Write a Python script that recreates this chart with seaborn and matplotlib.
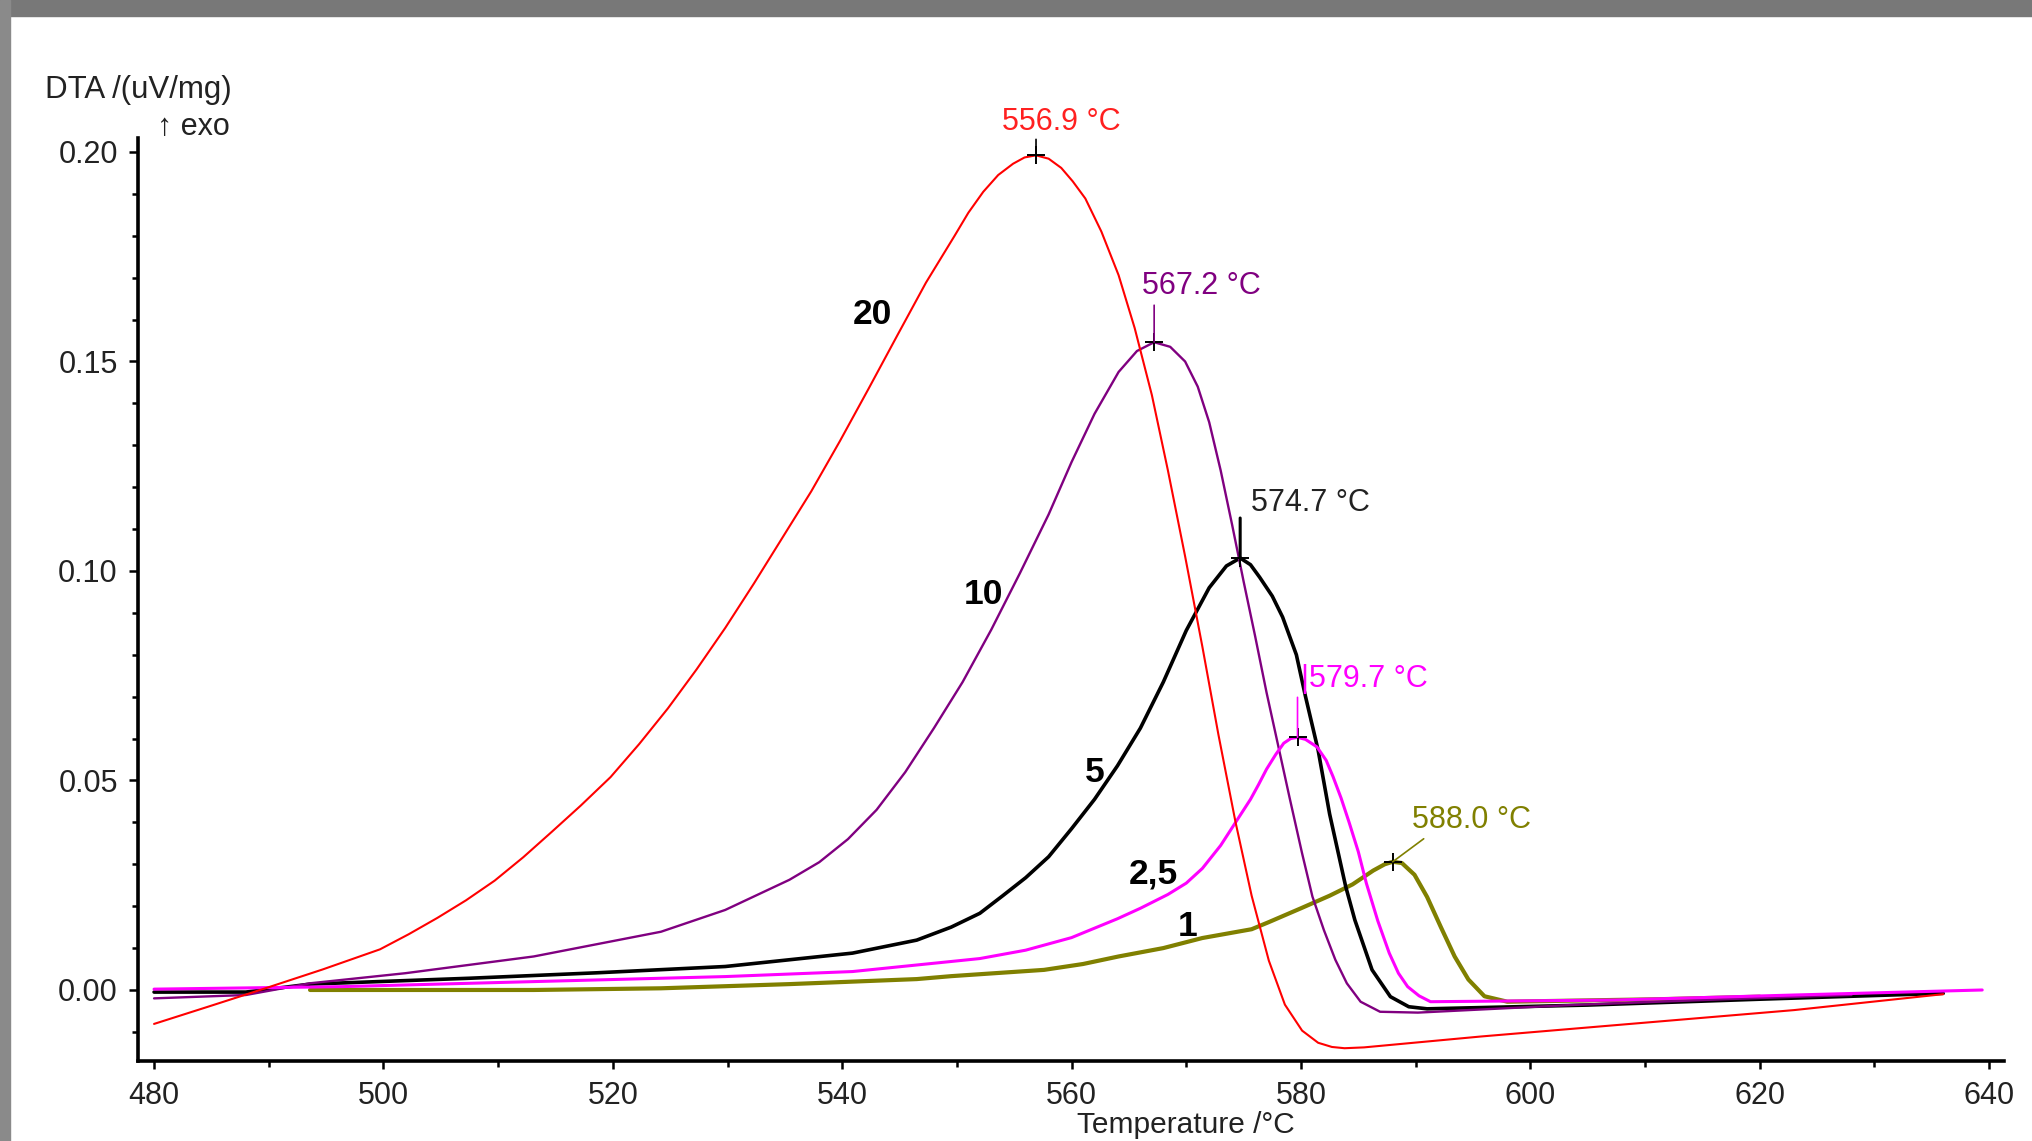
import matplotlib
matplotlib.use("Agg")
import matplotlib.pyplot as plt
from matplotlib.patches import Rectangle
from matplotlib.ticker import MultipleLocator, FormatStrFormatter
import seaborn as sns
import pandas as pd

# ---- DTA curves at different heating rates (K/min) ----
rate_labels = ["20", "10", "5", "2,5", "1"]
colors = ["#ff0000", "#800080", "#000000", "#ff00ff", "#808000"]

t_20 = [480.0, 484.7, 489.7, 494.7, 499.7, 502.2, 504.7, 507.2, 509.7, 512.2, 514.7,
        517.2, 519.8, 522.3, 524.8, 527.3, 529.8, 532.3, 534.8, 537.3, 539.8, 542.3,
        544.8, 547.3, 549.8, 551.0, 552.3, 553.6, 554.9, 555.9, 556.9, 558.0, 559.1,
        560.1, 561.2, 562.6, 564.1, 565.5, 567.0, 568.4, 569.9, 571.4, 572.8, 574.3,
        575.7, 577.2, 578.6, 580.1, 581.5, 582.7, 583.8, 585.5, 595.7, 607.4, 623.0,
        636.0]
v_20 = [-0.0081, -0.0040, 0.0004, 0.0049, 0.0097, 0.0133, 0.0172, 0.0214, 0.0261, 0.0317,
        0.0378, 0.0440, 0.0508, 0.0587, 0.0672, 0.0765, 0.0864, 0.0970, 0.1080, 0.1190,
        0.1310, 0.1435, 0.1562, 0.1688, 0.1800, 0.1855, 0.1905, 0.1945, 0.1972, 0.1987,
        0.1992, 0.1984, 0.1962, 0.1930, 0.1889, 0.1810, 0.1706, 0.1580, 0.1420, 0.1240,
        0.1035, 0.0820, 0.0610, 0.0400, 0.0225, 0.0070, -0.0035, -0.0097, -0.0126,
        -0.0136, -0.0139, -0.0137, -0.0111, -0.0084, -0.0048, -0.0010]

t_10 = [480.0, 488.0, 493.6, 501.9, 513.1, 524.2, 529.8, 535.4, 538.0, 540.5, 543.0,
        545.5, 548.0, 550.5, 553.0, 555.5, 558.0, 560.0, 562.0, 564.1, 565.7, 567.2,
        568.6, 569.9, 571.0, 572.0, 573.0, 574.0, 575.0, 576.0, 577.0, 578.0, 579.0,
        580.1, 581.0, 582.0, 583.0, 584.0, 585.2, 586.9, 590.2, 603.5, 617.0, 628.0]
v_10 = [-0.0020, -0.0012, 0.0016, 0.0040, 0.0080, 0.0139, 0.0191, 0.0263, 0.0305, 0.0360,
        0.0430, 0.0520, 0.0625, 0.0735, 0.0860, 0.0995, 0.1135, 0.1260, 0.1375, 0.1475,
        0.1525, 0.1546, 0.1535, 0.1500, 0.1440, 0.1355, 0.1240, 0.1110, 0.0975, 0.0845,
        0.0710, 0.0585, 0.0460, 0.0326, 0.0223, 0.0143, 0.0072, 0.0016, -0.0028, -0.0052,
        -0.0054, -0.0036, -0.0022, -0.0012]

t_5 = [480.0, 488.0, 493.6, 507.5, 518.6, 529.8, 540.9, 546.5, 549.5, 552.0, 554.0,
       556.0, 558.0, 560.0, 562.0, 564.0, 566.0, 568.0, 570.0, 572.0, 573.5, 574.7,
       575.6, 576.4, 577.5, 578.4, 579.6, 580.4, 581.5, 582.5, 583.9, 584.7, 586.2,
       587.8, 589.4, 591.0, 605.0, 620.0, 636.0]
v_5 = [-0.0005, -0.0005, 0.0014, 0.0028, 0.0041, 0.0056, 0.0088, 0.0119, 0.0150, 0.0183,
       0.0225, 0.0268, 0.0318, 0.0385, 0.0455, 0.0535, 0.0625, 0.0735, 0.0858, 0.0960,
       0.1012, 0.1031, 0.1015, 0.0985, 0.0940, 0.0890, 0.0800, 0.0700, 0.0572, 0.0420,
       0.0247, 0.0167, 0.0048, -0.0016, -0.0040, -0.0045, -0.0036, -0.0022, -0.0008]

t_25 = [480.0, 496.4, 513.1, 529.8, 540.9, 549.5, 552.0, 556.0, 560.0, 564.0, 566.0,
        568.4, 570.0, 571.4, 573.0, 574.3, 575.6, 576.3, 577.0, 577.8, 578.5, 579.1,
        579.7, 580.4, 581.4, 582.2, 582.8, 583.5, 584.2, 585.0, 585.7, 586.7, 587.7,
        588.5, 589.3, 590.3, 591.3, 607.4, 623.0, 639.4]
v_25 = [0.0002, 0.0008, 0.0020, 0.0032, 0.0044, 0.0068, 0.0075, 0.0095, 0.0125, 0.0170,
        0.0195, 0.0228, 0.0255, 0.0290, 0.0345, 0.0400, 0.0455, 0.0490, 0.0527, 0.0562,
        0.0589, 0.0600, 0.0603, 0.0598, 0.0580, 0.0548, 0.0509, 0.0458, 0.0400, 0.0330,
        0.0255, 0.0165, 0.0088, 0.0040, 0.0008, -0.0014, -0.0028, -0.0024, -0.0012, 0.0000]

t_1 = [493.6, 513.1, 524.2, 535.4, 546.5, 549.5, 557.6, 561.0, 564.1, 568.0, 571.4,
       575.7, 577.2, 580.0, 582.5, 584.5, 586.3, 587.3, 588.0, 588.8, 589.9, 591.0,
       592.2, 593.4, 594.6, 596.0, 598.0, 611.3, 620.0]
v_1 = [0.0000, 0.0000, 0.0004, 0.0014, 0.0026, 0.0033, 0.0048, 0.0062, 0.0080, 0.0100,
       0.0124, 0.0145, 0.0162, 0.0195, 0.0225, 0.0252, 0.0285, 0.0300, 0.0306, 0.0303,
       0.0275, 0.0222, 0.0150, 0.0080, 0.0025, -0.0015, -0.0028, -0.0022, -0.0016]

# Peak temperatures and heights
peak_t = [556.9, 567.2, 574.7, 579.7, 588.0]
peak_v = [0.1992, 0.1546, 0.1031, 0.0603, 0.0306]

# Positions of the heating-rate tags on the rising flanks
tag_t = [542.6, 552.3, 562.0, 567.1, 570.1]
tag_v = [0.1611, 0.0943, 0.0519, 0.0278, 0.0152]

series_t = [t_20, t_10, t_5, t_25, t_1]
series_v = [v_20, v_10, v_5, v_25, v_1]
line_w = [1.5, 1.7, 2.6, 2.2, 3.0]

frames = []
for lab, tt, vv in zip(rate_labels, series_t, series_v):
    frames.append(pd.DataFrame({"T": tt, "DTA": vv, "rate": lab}))
df = pd.concat(frames, ignore_index=True)

sns.set_style("ticks")
plt.rcParams["font.family"] = ["Liberation Sans", "DejaVu Sans"]

W, H = 2032, 1141
fig = plt.figure(figsize=(W / 100, H / 100), dpi=100)
fig.patch.set_facecolor("white")

# window frame
fig.patches.append(Rectangle((0, 1 - 16 / H), 1, 16 / H, transform=fig.transFigure,
                             color="#787878", zorder=0))
fig.patches.append(Rectangle((0, 0), 10 / W, 1, transform=fig.transFigure,
                             color="#8a8a8a", zorder=0))

ax = fig.add_axes([138 / W, 1 - 1061 / H, (2004 - 138) / W, (1061 - 138) / H])
ax.set_facecolor("white")

draw_order = [4, 2, 1, 3, 0]
for i in draw_order:
    sub = df[df["rate"] == rate_labels[i]]
    sns.lineplot(data=sub, x="T", y="DTA", color=colors[i], linewidth=line_w[i],
                 sort=False, estimator=None, ax=ax, legend=False,
                 zorder=3 + draw_order.index(i))

ax.set_xlim(478.6, 641.3)
ax.set_ylim(-0.01695, 0.20334)

# peak marks
ax.plot(peak_t, peak_v, linestyle="none", marker="+", markersize=13,
        markeredgewidth=1.4, color="black", zorder=10)

txt_colors = ["#ff2020", "#800080", "#222222", "#ff00ff", "#808000"]
lead_colors = ["black", "#800080", "black", "#ff00ff", "#808000"]
lead_w = [1.2, 1.2, 2.2, 1.2, 1.2]
lead_end = [(0, 16), (0, 37), (0, 40), (0, 40), (31, 23)]
text_off = [(25, 33), (47, 56), (70, 55), (67, 58), (79, 42)]
for i in range(5):
    p = (peak_t[i], peak_v[i])
    ax.annotate("", xy=p, xytext=lead_end[i], textcoords="offset pixels",
                arrowprops=dict(arrowstyle="-", color=lead_colors[i], lw=lead_w[i],
                                shrinkA=0, shrinkB=0), zorder=11)
    label = f"{peak_t[i]:.1f} °C"
    if i == 3:
        label = "|" + label
    ax.annotate(label, xy=p, xytext=text_off[i], textcoords="offset pixels",
                ha="center", va="center", fontsize=22, color=txt_colors[i], zorder=12)

for i in range(5):
    ax.text(tag_t[i], tag_v[i], rate_labels[i], fontsize=25.5, fontweight="bold",
            ha="center", va="center", color="black", zorder=12)

# axes styling
for side in ["top", "right"]:
    ax.spines[side].set_visible(False)
for side in ["left", "bottom"]:
    ax.spines[side].set_linewidth(2.6)
    ax.spines[side].set_color("black")

ax.xaxis.set_major_locator(MultipleLocator(20))
ax.xaxis.set_minor_locator(MultipleLocator(10))
ax.yaxis.set_major_locator(MultipleLocator(0.05))
ax.yaxis.set_minor_locator(MultipleLocator(0.01))
ax.yaxis.set_major_formatter(FormatStrFormatter("%.2f"))
ax.tick_params(axis="x", which="major", direction="out", length=5.5, width=1.8,
               labelsize=22, pad=9, colors="black", labelcolor="#222222")
ax.tick_params(axis="x", which="minor", direction="out", length=4.5, width=1.8, colors="black")
ax.tick_params(axis="y", which="major", direction="out", length=6.5, width=1.8,
               labelsize=22, pad=8, colors="black", labelcolor="#222222")
ax.tick_params(axis="y", which="minor", direction="out", length=4, width=1.8, colors="black")
ax.set_xlabel("")
ax.set_ylabel("")

fig.text(45 / W, 1 - 98 / H, "DTA /(uV/mg)", fontsize=22.5, ha="left", va="baseline",
         color="#222222")
fig.text(157 / W, 1 - 135 / H, "↑ exo", fontsize=22, ha="left", va="baseline",
         color="#222222")
fig.text(1186 / W, 1 - 1133 / H, "Temperature /°C", fontsize=21.5, ha="center",
         va="baseline", color="#222222")

fig.savefig("out.png", dpi=100, facecolor="white")
